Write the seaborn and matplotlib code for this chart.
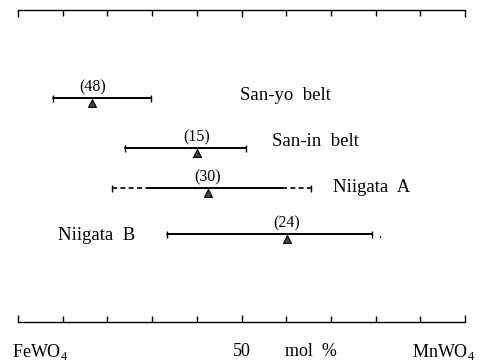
import matplotlib
matplotlib.use("Agg")
import matplotlib.pyplot as plt
import matplotlib.transforms as mtransforms
import seaborn as sns
import pandas as pd

# composition ranges, FeWO4 -> MnWO4 (mol % MnWO4)
belts = ["San-yo  belt", "San-in  belt", "Niigata  A", "Niigata  B"]
n_samples = [48, 15, 30, 24]
range_min = [7.8, 23.9, 21.0, 33.3]
range_max = [29.8, 51.0, 65.5, 79.2]
mean_mn = [16.6, 40.0, 42.5, 60.2]
# solid part of Niigata A (outside it is dashed)
niigata_a_solid = [29.1, 59.1]

sns.set_style("white")
plt.rcParams["font.family"] = ["Liberation Serif", "DejaVu Serif"]
plt.rcParams["mathtext.fontset"] = "custom"
plt.rcParams["mathtext.rm"] = "Liberation Serif"
plt.rcParams["text.color"] = "black"

W, H = 481, 364
fig = plt.figure(figsize=(W / 100, H / 100), dpi=100)
# axes spans the top axis line (y=10px) to bottom axis line (y=322px)
ax = fig.add_axes([18 / W, 1 - 322 / H, 447 / W, 312 / H])
ax.set_xlim(0, 100)
ax.set_ylim(312, 0)

# vertical layout of rows (pixels below top axis line)
row_y = [88, 138, 178, 224]

df = pd.DataFrame({"belt": belts, "n": n_samples, "lo": range_min,
                   "hi": range_max, "mean": mean_mn, "y": row_y})

lw = 1.4
for i, r in df.iterrows():
    if r["belt"] == "Niigata  A":
        s0, s1 = niigata_a_solid
        ax.plot([r["lo"], s0], [r["y"]] * 2, color="black", lw=1.2, ls=(0, (3, 2)))
        ax.plot([s0, s1], [r["y"]] * 2, color="black", lw=lw)
        ax.plot([s1, r["hi"]], [r["y"]] * 2, color="black", lw=1.2, ls=(0, (3, 2)))
    else:
        ax.plot([r["lo"], r["hi"]], [r["y"]] * 2, color="black", lw=lw)
    ax.vlines([r["lo"], r["hi"]], r["y"] - 3.5, r["y"] + 3.5, color="black", lw=1.0)
    ax.text(r["mean"], r["y"] - 3, f"({r['n']})", ha="center", va="bottom",
            fontsize=11.5, color="black")

sns.scatterplot(data=df, x="mean", y=df["y"] + 4.5, marker="^", s=32,
                color="#444444", edgecolor="black", linewidth=0.8, ax=ax,
                legend=False, zorder=5)

# belt labels
fs = 13.5
ax.text(49.7, row_y[0] - 2, belts[0], ha="left", va="center", fontsize=fs)
ax.text(56.8, row_y[1] - 7, belts[1], ha="left", va="center", fontsize=fs)
ax.text(70.5, row_y[2], belts[2], ha="left", va="center", fontsize=fs)
ax.text(9.0, row_y[3] + 1, belts[3], ha="left", va="center", fontsize=fs)
ax.text(80.6, row_y[3] + 1, ".", ha="left", va="center", fontsize=10)

ax.set_xlabel("")
ax.set_ylabel("")
ax.set_yticks([])
ax.set_xticks([0, 50, 100])
ax.set_xticks(range(10, 100, 10), minor=True)
ax.set_xticklabels([])
ax.tick_params(axis="x", which="both", direction="in", top=True, bottom=True,
               color="black", width=1.0)
ax.tick_params(axis="x", which="major", length=5)
ax.tick_params(axis="x", which="minor", length=4)
for side in ["left", "right"]:
    ax.spines[side].set_visible(False)
for side in ["top", "bottom"]:
    ax.spines[side].set_color("black")
    ax.spines[side].set_linewidth(1.0)

# bottom labels
trans = mtransforms.blended_transform_factory(ax.transData, fig.transFigure)
ybot = 1 - 352 / H
ax.text(-1.3, ybot, "FeWO$_4$", transform=trans, ha="left", va="center", fontsize=13)
ax.text(50, ybot, "50", transform=trans, ha="center", va="center", fontsize=13)
ax.text(59.8, ybot, "mol  %", transform=trans, ha="left", va="center", fontsize=13)
ax.text(102.3, ybot, "MnWO$_4$", transform=trans, ha="right", va="center", fontsize=13)

fig.savefig("out.png", dpi=100)
